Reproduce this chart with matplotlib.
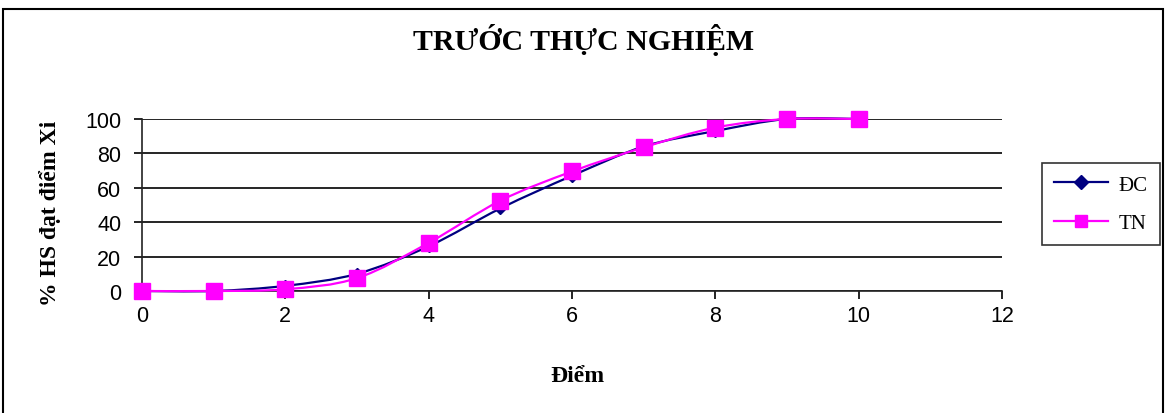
"""
Cumulative score distribution before the experiment (ĐC vs TN), Excel-style line chart.
"""
import matplotlib
matplotlib.use("Agg")
import matplotlib.pyplot as plt
from matplotlib.path import Path
from matplotlib.patches import PathPatch, Rectangle

# --- data ---
diem = [0, 1, 2, 3, 4, 5, 6, 7, 8, 9, 10]
dc = [0, 0, 3, 10, 26, 48, 67, 84, 93, 100, 100]
tn = [0, 0, 1, 7.5, 28, 52.5, 69.5, 83.5, 95, 100, 100]

NAVY, MAGENTA = "#000080", "#ff00ff"
SERIF = "Liberation Serif"
SANS = "Liberation Sans"


def smooth_path(xs, ys):
    """Excel-like smoothed line: Catmull-Rom segments as cubic Beziers."""
    verts, codes = [(xs[0], ys[0])], [Path.MOVETO]
    n = len(xs)
    for i in range(n - 1):
        x0, y0 = (xs[i - 1], ys[i - 1]) if i > 0 else (xs[i], ys[i])
        x1, y1 = xs[i], ys[i]
        x2, y2 = xs[i + 1], ys[i + 1]
        x3, y3 = (xs[i + 2], ys[i + 2]) if i + 2 < n else (x2, y2)
        c1 = (x1 + (x2 - x0) / 6, y1 + (y2 - y0) / 6)
        c2 = (x2 - (x3 - x1) / 6, y2 - (y3 - y1) / 6)
        verts += [c1, c2, (x2, y2)]
        codes += [Path.CURVE4] * 3
    return Path(verts, codes)


fig = plt.figure(figsize=(11.68, 4.14), dpi=100)
ax = fig.add_axes([142 / 1168, 1 - 292 / 414, 860 / 1168, 172 / 414])

for ys, col, mk, ms, lms, lab in [(dc, NAVY, "D", 6, 7, "ĐC"), (tn, MAGENTA, "s", 11, 9, "TN")]:
    ax.add_patch(PathPatch(smooth_path(diem, ys), fill=False, edgecolor=col, lw=1.6,
                           zorder=3, clip_on=False))
    ax.plot(diem, ys, ls="none", marker=mk, ms=ms, color=col, zorder=4, clip_on=False)
    ax.plot([], [], color=col, lw=1.6, marker=mk, ms=lms, label=lab)

ax.set_xlim(0, 12)
ax.set_ylim(0, 100)
ax.set_xticks(range(0, 13, 2))
ax.set_yticks(range(0, 101, 20))
ax.yaxis.grid(True, color="black", lw=1.2)
ax.set_axisbelow(True)
for s in ["top", "right"]:
    ax.spines[s].set_visible(False)
for s in ["left", "bottom"]:
    ax.spines[s].set_linewidth(1.2)
    ax.spines[s].set_color("#222222")
ax.tick_params(direction="out", length=6, width=1.2, labelsize=15.5)
ax.tick_params(axis="y", pad=9)
ax.tick_params(axis="x", pad=4)
for t in ax.get_xticklabels() + ax.get_yticklabels():
    t.set_fontfamily(SANS)

fig.text(584 / 1168, 1 - 40 / 414, "TRƯỚC THỰC NGHIỆM", ha="center", va="center",
         fontfamily=SERIF, fontweight="bold", fontsize=21.5)
fig.text(577 / 1168, 1 - 377 / 414, "Điểm", ha="center", va="center",
         fontfamily=SERIF, fontweight="bold", fontsize=17)
fig.text(50 / 1168, 1 - 213 / 414, "% HS đạt điểm Xi", ha="center", va="center",
         rotation=90, fontfamily=SERIF, fontweight="bold", fontsize=17)

leg = fig.legend(loc="center", bbox_to_anchor=(1101 / 1168, 1 - 205 / 414),
                 frameon=True, fancybox=False, edgecolor="black",
                 prop={"family": SERIF, "size": 15}, handlelength=2.6,
                 labelspacing=0.9, borderpad=0.6, handletextpad=0.5)
leg.get_frame().set_linewidth(1.2)

# outer chart-area border
fig.patches.append(Rectangle((3 / 1168, -0.02), 1160 / 1168, 1 - 10 / 414 + 0.02,
                             transform=fig.transFigure, fill=False,
                             edgecolor="black", lw=1.5))

fig.savefig("out.png", dpi=100)
